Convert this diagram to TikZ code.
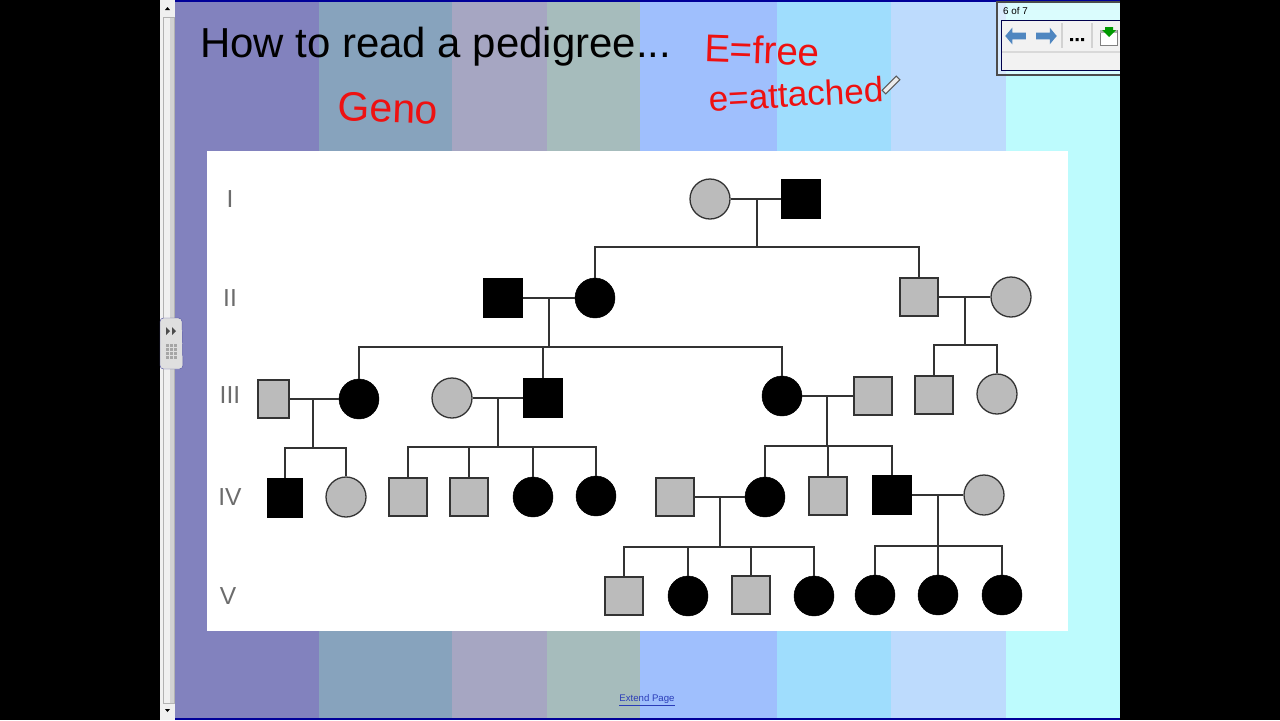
\documentclass[tikz,border=0pt]{standalone}
\usepackage{fontspec}
\setmainfont{Liberation Sans}
\usetikzlibrary{arrows.meta,positioning,shapes.geometric,shapes.arrows,calc}
\definecolor{bandA}{HTML}{8282BE}
\definecolor{bandB}{HTML}{87A3BD}
\definecolor{bandC}{HTML}{A6A6C2}
\definecolor{bandD}{HTML}{A6BCBC}
\definecolor{bandE}{HTML}{9FBFFD}
\definecolor{bandF}{HTML}{9FDDFD}
\definecolor{bandG}{HTML}{BDDBFD}
\definecolor{bandH}{HTML}{BDFBFD}
\definecolor{fillgray}{HTML}{BBBBBB}
\definecolor{linegray}{HTML}{333333}
\definecolor{inkred}{HTML}{EE1111}
\definecolor{toolblue}{HTML}{4F86C0}
\definecolor{linkblue}{HTML}{2A3CB8}
\tikzset{
  graysq/.style={draw=linegray, line width=1.1pt, rectangle, minimum width=1.14cm, minimum height=1.14cm, inner sep=0pt, fill=fillgray},
  blacksq/.style={draw=black, rectangle, minimum width=1.16cm, minimum height=1.16cm, inner sep=0pt, fill=black},
  graycirc/.style={draw=linegray, line width=1.1pt, circle, minimum size=1.2cm, inner sep=0pt, fill=fillgray},
  blackcirc/.style={draw=black, circle, minimum size=1.2cm, inner sep=0pt, fill=black},
  genline/.style={draw=linegray, line width=1.1pt},
  gen/.style={text=gray!85!black, font=\fontsize{21}{21}\selectfont},
  ink/.style={text=inkred, inner sep=0pt}
}
\begin{document}
\begin{tikzpicture}[x=0.03cm,y=-0.03cm]
  \useasboundingbox (0,0) rectangle (1280,720);
  \fill[black] (0,0) rectangle (1280,720);
  \fill[bandA] (160,0) rectangle (319,720);
  \fill[bandB] (319,0) rectangle (452,720);
  \fill[bandC] (452,0) rectangle (547,720);
  \fill[bandD] (547,0) rectangle (640,720);
  \fill[bandE] (640,0) rectangle (777,720);
  \fill[bandF] (777,0) rectangle (891,720);
  \fill[bandG] (891,0) rectangle (1006,720);
  \fill[bandH] (1006,0) rectangle (1120,720);
  \fill[blue!60!black] (160,0) rectangle (1120,1.5);
  \fill[blue!60!black] (160,718) rectangle (1120,720);
  % scrollbar and side handle
  \fill[gray!12] (160,0) rectangle (175,720);
  \fill[gray!35] (170,17) rectangle (174,703);
  \draw[gray!60] (163,17) rectangle (174,703);
  \fill[black] (165,10) -- (170,10) -- (167.5,7) -- cycle;
  \fill[black] (165,709) -- (170,709) -- (167.5,712) -- cycle;
  \draw[gray!70!blue, fill=gray!25, rounded corners=3pt] (160,318) -- (182,318) -- (183,369) -- (160,369) -- cycle;
  \fill[gray!60!black] (166,327) -- (170,331) -- (166,335) -- cycle;
  \fill[gray!60!black] (172,327) -- (176,331) -- (172,335) -- cycle;
  \foreach \dotx in {166,170,174}
    \foreach \doty in {344,348,352,356}
      \fill[gray!70] (\dotx,\doty) rectangle ++(2.6,2.6);
  % slide text
  \node[anchor=base west, inner sep=0pt, font=\fontsize{35.8}{36}\selectfont] (title) at (200,57) {How to read a pedigree...};
  \node[ink, rotate=-2, font=\fontsize{35}{35}\selectfont] (geno) at (388,108) {Geno};
  \node[ink, rotate=-2, font=\fontsize{33}{33}\selectfont] (free) at (762,50) {E=free};
  \node[ink, rotate=3, font=\fontsize{30}{30}\selectfont] (attached) at (796,94) {e=attached};
  \draw[gray!70!black, fill=gray!15, line width=0.9pt, rotate around={45:(891,85)}] (881,82.5) rectangle (901,87.5);
  \node[text=linkblue, font=\fontsize{8.2}{9}\selectfont, inner sep=0pt] (extend) at (647,700) {\underline{Extend Page}};
  % toolbar
  \fill[white, opacity=0.45] (997,2) rectangle (1120,75);
  \draw[gray!60!black, line width=0.9pt] (1120,2) -- (997,2) -- (997,75) -- (1120,75);
  \fill[gray!10] (1001,20) rectangle (1120,70);
  \draw[blue!30!black, line width=0.7pt] (1120,20) -- (1001,20) -- (1001,70) -- (1120,70);
  \fill[gray!30] (1002,51) rectangle (1120,53);
  \fill[gray!35] (1061,23) rectangle (1063,48);
  \fill[gray!35] (1091,23) rectangle (1093,48);
  \node[anchor=west, inner sep=0pt, font=\fontsize{8.4}{8}\selectfont] (pagecount) at (1003,11) {6 of 7};
  \node[single arrow, fill=toolblue, minimum width=0.5cm, minimum height=0.62cm, single arrow head extend=2.5pt, single arrow tip angle=100, inner sep=1.5pt, shape border rotate=180] (prev) at (1017,36) {};
  \node[single arrow, fill=toolblue, minimum width=0.5cm, minimum height=0.62cm, single arrow head extend=2.5pt, single arrow tip angle=100, inner sep=1.5pt] (next) at (1045,36) {};
  \fill[black] (1070,38) rectangle (1073,41) (1075.5,38) rectangle (1078.5,41) (1081,38) rectangle (1084,41);
  \draw[gray, fill=white] (1100,30) rectangle (1117,45);
  \fill[gray!60] (1100,30) rectangle (1117,33);
  \fill[green!60!black] (1105,27) -- (1113,27) -- (1113,30) -- (1116,30) -- (1109,37) -- (1102,30) -- (1105,30) -- cycle;
  % pedigree panel
  \fill[white] (207,151) rectangle (1068,631);
  \node[gen] (gI) at (230,199) {I};
  \node[gen] (gII) at (230,298) {II};
  \node[gen] (gIII) at (230,395) {III};
  \node[gen] (gIV) at (230,497) {IV};
  \node[gen] (gV) at (228,596) {V};
  \node[graycirc] (a1) at (710,199) {};
  \node[blacksq] (a2) at (801,199) {};
  \node[blacksq] (b1) at (503,298) {};
  \node[blackcirc] (b2) at (595,298) {};
  \node[graysq] (b3) at (919,297) {};
  \node[graycirc] (b4) at (1011,297) {};
  \node[graysq,minimum width=0.93cm] (c1) at (273.5,399) {};
  \node[blackcirc] (c2) at (359,399) {};
  \node[graycirc] (c3) at (452,398) {};
  \node[blacksq] (c4) at (543,398) {};
  \node[blackcirc] (c5) at (782,396) {};
  \node[graysq] (c6) at (873,396) {};
  \node[graysq] (c7) at (934,395) {};
  \node[graycirc] (c8) at (997,394) {};
  \node[blacksq,minimum width=1.04cm] (d1) at (285,498) {};
  \node[graycirc] (d2) at (346,497) {};
  \node[graysq] (d3) at (408,497) {};
  \node[graysq] (d4) at (469,497) {};
  \node[blackcirc] (d5) at (533,497) {};
  \node[blackcirc] (d6) at (596,496) {};
  \node[graysq] (d7) at (675,497) {};
  \node[blackcirc] (d8) at (765,497) {};
  \node[graysq] (d9) at (828,496) {};
  \node[blacksq] (d10) at (892,495) {};
  \node[graycirc] (d11) at (984,495) {};
  \node[graysq] (e1) at (624,596) {};
  \node[blackcirc] (e2) at (688,596) {};
  \node[graysq] (e3) at (751,595) {};
  \node[blackcirc] (e4) at (814,596) {};
  \node[blackcirc] (e5) at (875,595) {};
  \node[blackcirc] (e6) at (938,595) {};
  \node[blackcirc] (e7) at (1002,595) {};
  \coordinate (j1) at (757,199);
  \coordinate (bar1) at (757,247);
  \coordinate (j2) at (549,298);
  \coordinate (bar2) at (549,347);
  \coordinate (j3) at (965,297);
  \coordinate (bar3) at (965,345);
  \coordinate (j4) at (313,399);
  \coordinate (bar4) at (313,448);
  \coordinate (j5) at (498,398);
  \coordinate (bar5) at (498,447);
  \coordinate (j6) at (827,396);
  \coordinate (bar6) at (827,446);
  \coordinate (j7) at (720,497);
  \coordinate (bar7) at (720,547);
  \coordinate (j8) at (938,495);
  \coordinate (bar8) at (938,546);
  \draw[genline] (a1) -- (a2);
  \draw[genline] (j1) -- (bar1);
  \draw[genline] (bar1) -| (b2.north);
  \draw[genline] (bar1) -| (b3.north);
  \draw[genline] (b1) -- (b2);
  \draw[genline] (j2) -- (bar2);
  \draw[genline] (bar2) -| (c2.north);
  \draw[genline] (bar2) -| (c4.north);
  \draw[genline] (bar2) -| (c5.north);
  \draw[genline] (b3) -- (b4);
  \draw[genline] (j3) -- (bar3);
  \draw[genline] (bar3) -| (c7.north);
  \draw[genline] (bar3) -| (c8.north);
  \draw[genline] (c1) -- (c2);
  \draw[genline] (j4) -- (bar4);
  \draw[genline] (bar4) -| (d1.north);
  \draw[genline] (bar4) -| (d2.north);
  \draw[genline] (c3) -- (c4);
  \draw[genline] (j5) -- (bar5);
  \draw[genline] (bar5) -| (d3.north);
  \draw[genline] (bar5) -| (d4.north);
  \draw[genline] (bar5) -| (d5.north);
  \draw[genline] (bar5) -| (d6.north);
  \draw[genline] (c5) -- (c6);
  \draw[genline] (j6) -- (bar6);
  \draw[genline] (bar6) -| (d8.north);
  \draw[genline] (bar6) -| (d9.north);
  \draw[genline] (bar6) -| (d10.north);
  \draw[genline] (d7) -- (d8);
  \draw[genline] (j7) -- (bar7);
  \draw[genline] (bar7) -| (e1.north);
  \draw[genline] (bar7) -| (e2.north);
  \draw[genline] (bar7) -| (e3.north);
  \draw[genline] (bar7) -| (e4.north);
  \draw[genline] (d10) -- (d11);
  \draw[genline] (j8) -- (bar8);
  \draw[genline] (bar8) -| (e5.north);
  \draw[genline] (bar8) -| (e6.north);
  \draw[genline] (bar8) -| (e7.north);
\end{tikzpicture}
\end{document}
